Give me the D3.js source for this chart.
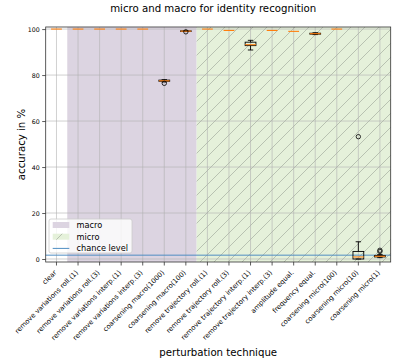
<!DOCTYPE html>
<html>
<head>
<meta charset="utf-8">
<script src="https://cdn.jsdelivr.net/npm/d3@7"></script>
<style>
  body { margin: 0; background: #fff; }
  svg { display: block; font-family: "DejaVu Sans", sans-serif; }
</style>
</head>
<body>
<svg id="chart" width="395" height="363"></svg>
<script>
// perturbation techniques, one box each
const categories = [
  "clear",
  "remove variations roll.(1)",
  "remove variations roll.(3)",
  "remove variations interp.(1)",
  "remove variations interp.(3)",
  "coarsening macro(1000)",
  "coarsening macro(100)",
  "remove trajectory roll.(1)",
  "remove trajectory roll.(3)",
  "remove trajectory interp.(1)",
  "remove trajectory interp.(3)",
  "amplitude equal.",
  "frequency equal.",
  "coarsening micro(100)",
  "coarsening micro(10)",
  "coarsening micro(1)"
];

// box statistics (accuracy in %)
const whiskerLow = [100, 100, 100, 100, 100, 77.0, 99.0, 100, 99.4, 90.9, 99.4, 99.0, 97.6, 100, 0.0, 0.6];
const quart1     = [100, 100, 100, 100, 100, 77.3, 99.0, 100, 99.4, 92.8, 99.4, 99.0, 97.8, 100, 0.0, 0.9];
const medians    = [100, 100, 100, 100, 100, 77.5, 99.1, 100, 99.4, 93.2, 99.4, 99.0, 98.0, 100, 0.9, 1.2];
const quart3     = [100, 100, 100, 100, 100, 77.8, 99.2, 100, 99.4, 94.3, 99.4, 99.0, 98.2, 100, 3.3, 1.5];
const whiskerHigh= [100, 100, 100, 100, 100, 78.0, 99.3, 100, 99.4, 95.1, 99.4, 99.0, 98.4, 100, 7.5, 2.0];
const outliers   = [[], [], [], [], [], [76.4], [98.8], [], [], [], [], [], [], [], [53.2], [3.3, 3.8]];

// groups shaded behind the boxes
const macroCats = categories.slice(1, 7);
const microCats = categories.slice(7);
const chanceLevel = 1.67;
const yTicks = [0, 20, 40, 60, 80, 100];

const svg = d3.select("#chart");
const mLeft = 45.7, mRight = 390.7, mTop = 27, mBottom = 262;

const x = d3.scaleBand().domain(categories).range([mLeft, mRight]).padding(0);
const y = d3.scaleLinear().domain([-1.3, 100.9]).range([mBottom, mTop]);
const bw = x.bandwidth();

// hatch for micro
const defs = svg.append("defs");
const pat = defs.append("pattern")
  .attr("id", "hatch")
  .attr("patternUnits", "userSpaceOnUse")
  .attr("width", 14).attr("height", 14);
pat.append("rect").attr("width", 14).attr("height", 14).attr("fill", "#e5f1da");
pat.append("path")
  .attr("d", "M0,14 L14,0 M-3.5,3.5 L3.5,-3.5 M10.5,17.5 L17.5,10.5")
  .attr("stroke", "#a5ad9f").attr("stroke-width", 0.7);

// spans
svg.append("rect")
  .attr("x", x(macroCats[0]))
  .attr("width", x(macroCats[macroCats.length - 1]) + bw - x(macroCats[0]))
  .attr("y", mTop).attr("height", mBottom - mTop)
  .attr("fill", "#dcd4e1");
svg.append("rect")
  .attr("x", x(microCats[0]))
  .attr("width", x(microCats[microCats.length - 1]) + bw - x(microCats[0]))
  .attr("y", mTop).attr("height", mBottom - mTop)
  .attr("fill", "url(#hatch)");

// grid
const grid = svg.append("g").attr("stroke", "#b0b0b0").attr("stroke-opacity", 0.75).attr("stroke-width", 0.8);
grid.selectAll(".gx").data(categories).join("line")
  .attr("x1", d => x(d) + bw / 2).attr("x2", d => x(d) + bw / 2)
  .attr("y1", mTop).attr("y2", mBottom);
grid.selectAll(".gy").data(yTicks).join("line")
  .attr("x1", mLeft).attr("x2", mRight)
  .attr("y1", d => y(d)).attr("y2", d => y(d));

// chance level
svg.append("line")
  .attr("x1", mLeft).attr("x2", mRight)
  .attr("y1", y(chanceLevel)).attr("y2", y(chanceLevel))
  .attr("stroke", "#4f8dc2").attr("stroke-width", 1);

// boxes (degenerate parts are hidden under the median in the original)
const boxW = bw * 0.5, capW = bw * 0.25;
const boxes = svg.append("g").attr("fill", "none");
categories.forEach((c, i) => {
  const cx = x(c) + bw / 2;
  const g = boxes.append("g");
  const flat = whiskerLow[i] === whiskerHigh[i];
  if (!flat) {
    g.append("line").attr("x1", cx).attr("x2", cx)
      .attr("y1", y(quart1[i])).attr("y2", y(whiskerLow[i])).attr("stroke", "#000").attr("stroke-width", 0.9);
    g.append("line").attr("x1", cx).attr("x2", cx)
      .attr("y1", y(quart3[i])).attr("y2", y(whiskerHigh[i])).attr("stroke", "#000").attr("stroke-width", 0.9);
    g.append("line").attr("x1", cx - capW / 2).attr("x2", cx + capW / 2)
      .attr("y1", y(whiskerLow[i])).attr("y2", y(whiskerLow[i])).attr("stroke", "#000").attr("stroke-width", 0.9);
    g.append("line").attr("x1", cx - capW / 2).attr("x2", cx + capW / 2)
      .attr("y1", y(whiskerHigh[i])).attr("y2", y(whiskerHigh[i])).attr("stroke", "#000").attr("stroke-width", 0.9);
    g.append("rect").attr("x", cx - boxW / 2).attr("width", boxW)
      .attr("y", y(quart3[i])).attr("height", Math.max(0, y(quart1[i]) - y(quart3[i])))
      .attr("stroke", "#000").attr("stroke-width", 0.9);
  }
  g.append("line").attr("x1", cx - boxW / 2).attr("x2", cx + boxW / 2)
    .attr("y1", y(medians[i])).attr("y2", y(medians[i])).attr("stroke", "#ff7f0e").attr("stroke-width", 1.1);
  g.selectAll("circle").data(outliers[i]).join("circle")
    .attr("cx", cx).attr("cy", d => y(d)).attr("r", 2.2)
    .attr("stroke", "#000").attr("stroke-width", 0.8);
});

// frame
svg.append("rect")
  .attr("x", mLeft).attr("y", mTop).attr("width", mRight - mLeft).attr("height", mBottom - mTop)
  .attr("fill", "none").attr("stroke", "#333").attr("stroke-width", 0.8);

// y axis
const yAxis = svg.append("g")
  .attr("transform", `translate(${mLeft},0)`)
  .call(d3.axisLeft(y).tickValues(yTicks).tickSize(3.5).tickPadding(2.5));
yAxis.select(".domain").remove();
yAxis.selectAll("text").attr("font-size", 6.3).attr("fill", "#000").attr("font-family", "DejaVu Sans");
yAxis.selectAll("line").attr("stroke", "#333").attr("stroke-width", 0.8);

// x axis
const xAxis = svg.append("g")
  .attr("transform", `translate(0,${mBottom})`)
  .call(d3.axisBottom(x).tickSize(3.5).tickFormat(""));
xAxis.select(".domain").remove();
xAxis.selectAll("line").attr("stroke", "#333").attr("stroke-width", 0.8);

svg.append("g").selectAll("text").data(categories).join("text")
  .attr("transform", d => `translate(${x(d) + bw / 2 + 0.5},${mBottom + 11}) rotate(-45)`)
  .attr("text-anchor", "end")
  .attr("font-size", 6.8)
  .text(d => d);

// labels
svg.append("text")
  .attr("x", (mLeft + mRight) / 2 - 5).attr("y", 11.5)
  .attr("text-anchor", "middle").attr("font-size", 10.2)
  .text("micro and macro for identity recognition");
svg.append("text")
  .attr("x", (mLeft + mRight) / 2).attr("y", 356)
  .attr("text-anchor", "middle").attr("font-size", 10.2)
  .text("perturbation technique");
svg.append("text")
  .attr("transform", `translate(25,${(mTop + mBottom) / 2}) rotate(-90)`)
  .attr("text-anchor", "middle").attr("font-size", 10.2)
  .text("accuracy in %");

// legend
const lg = svg.append("g").attr("transform", "translate(49,219)");
lg.append("rect").attr("width", 83).attr("height", 34).attr("rx", 2)
  .attr("fill", "#fff").attr("fill-opacity", 0.8).attr("stroke", "#ccc").attr("stroke-width", 0.8);
const rows = [
  { label: "macro", kind: "macro" },
  { label: "micro", kind: "micro" },
  { label: "chance level", kind: "line" }
];
rows.forEach((r, i) => {
  const cy = 6 + i * 11.7;
  if (r.kind === "line") {
    lg.append("line").attr("x1", 3.7).attr("x2", 20.3).attr("y1", cy).attr("y2", cy)
      .attr("stroke", "#4f8dc2").attr("stroke-width", 1);
  } else {
    lg.append("rect").attr("x", 3.7).attr("y", cy - 3).attr("width", 16.6).attr("height", 6)
      .attr("fill", r.kind === "macro" ? "#dcd4e1" : "url(#hatch)");
  }
  lg.append("text").attr("x", 27.5).attr("y", cy).attr("dy", "0.35em")
    .attr("font-size", 8.2).text(r.label);
});
</script>
</body>
</html>
